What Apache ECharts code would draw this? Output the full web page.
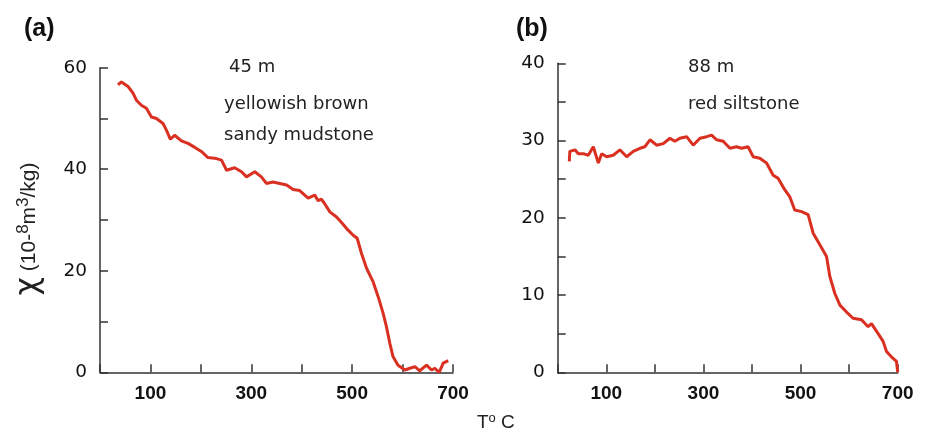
<!DOCTYPE html>
<html>
<head>
<meta charset="utf-8">
<script src="https://cdn.jsdelivr.net/npm/echarts@6/dist/echarts.min.js"></script>
<style>
html,body{margin:0;padding:0;background:#fff;}
#chart{width:930px;height:432px;}
</style>
</head>
<body>
<div id="chart"></div>
<script>
// ---- Data ----
const leftT = [35.7,42.4,55.6,65.5,72.2,82,92,102,112,125,131.7,139.6,148,161.5,174.6,188,201,214,231,241,251,267,280.6,290.5,307,320,330,343,356.5,370,383,396,412.7,426,432.5,439,445,455.8,469,479,492,502,510,518.6,528.6,541.7,551.6,561.5,568,574.8,581,591,604.6,614.5,624.4,634,647.6,657.5,664,672.6,680.6,690.5];
const leftChi = [56.6,57.2,56.3,55.0,53.6,52.6,52.0,50.3,50.0,49.0,47.7,45.9,46.7,45.6,45.1,44.3,43.5,42.3,42.1,41.8,39.8,40.3,39.5,38.5,39.5,38.5,37.2,37.5,37.2,36.9,36.0,35.8,34.3,34.9,33.8,34.1,33.3,31.6,30.6,29.5,28.0,27.0,26.4,23.4,20.5,17.8,14.9,11.6,9.0,5.7,3.1,1.4,0.45,0.8,1.1,0.3,1.4,0.45,0.8,0.0,1.8,2.3];

const rightT = [23.9,25,35.6,42.4,52.7,63,73.3,83.6,90.5,100.8,114.4,128,142,155.6,169.3,179.6,190,203.7,217.4,231,241,251.6,265.4,279,292.8,306.6,316.9,327,340.7,354.5,368,378.6,392,402.5,416,430,443.6,454,467.7,478,488,502,515.6,526,539.7,553.5,560.3,570.6,581,594.7,608,625.5,639,646,659.7,670,677,687,697.5,700];
const rightChi = [27.3,28.6,28.8,28.3,28.3,28.1,29.2,27.1,28.3,27.9,28.1,28.8,27.9,28.6,29.0,29.2,30.1,29.4,29.6,30.3,29.9,30.3,30.5,29.4,30.3,30.5,30.7,30.1,29.9,29.0,29.2,29.0,29.2,27.9,27.7,27.1,25.5,25.1,23.6,22.7,21.0,20.8,20.4,18.0,16.5,15.0,12.4,10.2,8.7,7.8,7.0,6.8,5.9,6.3,5.0,4.0,2.7,2.0,1.4,0.0];

const xTickLabels = [100, 300, 500, 700];
const leftYTickLabels = [0, 20, 40, 60];
const rightYTickLabels = [0, 10, 20, 30, 40];

const panelTitles = ['(a)', '(b)'];
const leftNotes = ['45 m', 'yellowish brown', 'sandy mudstone'];
const rightNotes = ['88 m', 'red siltstone'];

// ---- Build ----
const pairs = (xs, ys) => xs.map((x, i) => [x, ys[i]]);
const AX = '#333';
const RED = '#da3021';
const NUM = 'Liberation Sans, Arial, sans-serif';
const TXT = 'DejaVu Sans, sans-serif';

function xAxisCfg(gi) {
  return {
    gridIndex: gi, type: 'value', min: 0, max: 700, interval: 100,
    axisLine: { show: true, onZero: false, lineStyle: { color: AX, width: 1.5 } },
    axisTick: { show: true, inside: true, length: 8, lineStyle: { color: AX, width: 1.5 } },
    axisLabel: {
      margin: 12, fontFamily: NUM, fontWeight: 'bold', fontSize: 19, color: '#111',
      formatter: v => xTickLabels.includes(v) ? String(v) : ''
    },
    splitLine: { show: false }
  };
}
function yAxisCfg(gi, max, step, labels) {
  return {
    gridIndex: gi, type: 'value', min: 0, max: max, interval: step,
    axisLine: { show: true, lineStyle: { color: AX, width: 1.5 } },
    axisTick: { show: true, inside: true, length: 8, lineStyle: { color: AX, width: 1.5 } },
    axisLabel: {
      margin: 13, fontFamily: TXT, fontSize: 18.5, color: '#111',
      formatter: v => labels.includes(v) ? String(v) : ''
    },
    splitLine: { show: false }
  };
}

const chart = echarts.init(document.getElementById('chart'), null, { renderer: 'canvas' });
const note = (x, y, t) => ({ type: 'text', x: x, y: y, style: { text: t, font: '18px ' + TXT, fill: '#222', verticalAlign: 'middle' } });
const graphics = [
  { type: 'text', x: 24, y: 29, style: { text: panelTitles[0], font: 'bold 25px Liberation Sans, Arial, sans-serif', fill: '#111', verticalAlign: 'middle' } },
  { type: 'text', x: 516, y: 29, style: { text: panelTitles[1], font: 'bold 25px Liberation Sans, Arial, sans-serif', fill: '#111', verticalAlign: 'middle' } },
  note(229, 67, leftNotes[0]),
  note(224, 104, leftNotes[1]),
  note(224, 135, leftNotes[2]),
  note(688, 67, rightNotes[0]),
  note(688, 104, rightNotes[1]),
  {
    type: 'text', x: 29, y: 229, rotation: Math.PI / 2,
    style: {
      text: '{chi|χ} {n|(10-}{sup|8}{n|m}{sup|3}{n|/kg)}',
      align: 'center', verticalAlign: 'middle',
      fill: '#222', fontFamily: NUM, fontSize: 21,
      rich: {
        chi: { fontFamily: 'DejaVu Sans, sans-serif', fontSize: 32, lineHeight: 28, fill: '#222', verticalAlign: 'middle' },
        n: { fontFamily: NUM, fontSize: 21, lineHeight: 28, fill: '#222', verticalAlign: 'middle' },
        sup: { fontFamily: NUM, fontSize: 17, lineHeight: 28, fill: '#222', verticalAlign: 'top' }
      }
    }
  },
  {
    type: 'text', x: 477, y: 423,
    style: {
      text: '{n|T}{sup|o}{n| C}',
      verticalAlign: 'middle', fill: '#222', fontFamily: NUM, fontSize: 19,
      rich: {
        n: { fontFamily: NUM, fontSize: 19, lineHeight: 22, fill: '#222', verticalAlign: 'middle' },
        sup: { fontFamily: NUM, fontSize: 13, lineHeight: 22, fill: '#222', verticalAlign: 'top' }
      }
    }
  }
];

chart.setOption({
  animation: false,
  backgroundColor: '#fff',
  grid: [
    { left: 100, top: 67.7, width: 353, height: 304.6, containLabel: false },
    { left: 557.7, top: 63.3, width: 340, height: 309, containLabel: false }
  ],
  xAxis: [xAxisCfg(0), xAxisCfg(1)],
  yAxis: [yAxisCfg(0, 60, 10, leftYTickLabels), yAxisCfg(1, 40, 5, rightYTickLabels)],
  series: [
    { type: 'line', xAxisIndex: 0, yAxisIndex: 0, data: pairs(leftT, leftChi), showSymbol: false, lineStyle: { color: RED, width: 3 }, itemStyle: { color: RED } },
    { type: 'line', xAxisIndex: 1, yAxisIndex: 1, data: pairs(rightT, rightChi), showSymbol: false, lineStyle: { color: RED, width: 3 }, itemStyle: { color: RED } }
  ],
  graphic: graphics
});
</script>
</body>
</html>
